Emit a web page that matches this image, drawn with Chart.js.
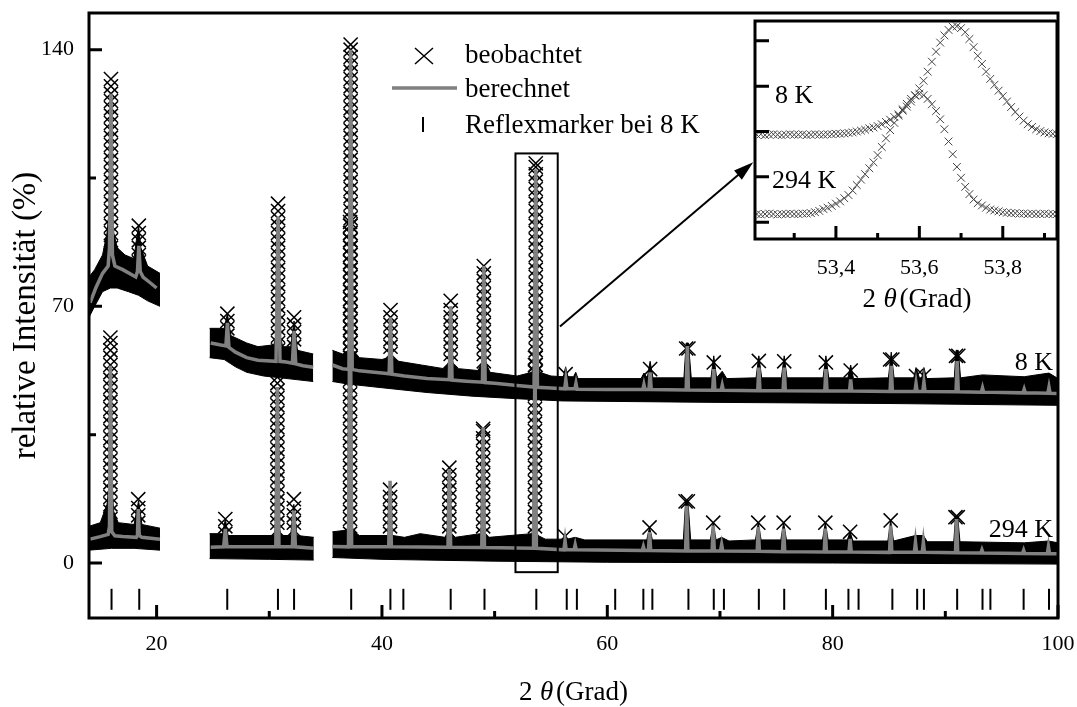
<!DOCTYPE html>
<html>
<head>
<meta charset="utf-8">
<script src="https://cdn.jsdelivr.net/npm/chart.js@4.4.0/dist/chart.umd.min.js"></script>
<style>
  html, body { margin: 0; padding: 0; background: #fff; }
  #wrap { position: relative; width: 1077px; height: 707px; }
  #main { position: absolute; left: 0; top: 0; }
  #inset { position: absolute; left: 740px; top: 13px; }
</style>
</head>
<body>
<div id="wrap">
  <canvas id="main" width="1077" height="707"></canvas>
  <canvas id="inset" width="330" height="310"></canvas>
</div>
<script>
// ---- Daten: [2θ, Intensität], null trennt die Messabschnitte ----
const calc8 = [
  [14.1,71],[14.6,75],[15.2,79],[15.7,81],[15.82,86],[15.95,128],[16.08,84],[16.3,81],[17,80],[18.15,78],[18.3,79.5],[18.42,86.5],[18.55,79.5],[18.8,78],[19.4,76.5],[20.0,75],
  [22,null],
  [24.8,60],[25.6,59.5],[26.15,59.2],[26.28,65.5],[26.42,58.8],[27,57.5],[28,56],[29,55.3],[30.6,55],[30.78,94.5],[30.95,55],[31.5,54.8],[32.05,54.5],[32.2,63.3],[32.35,54.3],[33,53.8],[33.9,53.4],
  [34.7,null],
  [35.6,54],[36.5,53],[37.08,52.8],[37.22,140],[37.36,52.8],[38,52.4],[40,51.8],[40.64,51.6],[40.76,67],[40.88,51.5],[42,51],[44,50.3],[45.98,50],[46.1,70],[46.22,49.9],[47.5,49.6],
  [48.92,49.3],[49.04,81],[49.16,49.2],[50,49],[52,48.4],[53.5,48],[53.65,107.4],[53.8,47.9],[55,47.7],[56.22,47.5],[56.32,50],[56.42,47.5],[57.12,47.5],[57.22,49],[57.32,47.4],
  [60,47.3],[63.15,47.3],[63.25,48.7],[63.35,47.3],[63.7,47.3],[63.8,52],[63.9,47.3],[67.0,47.2],[67.1,59.2],[67.2,47.2],[69.35,47.1],[69.45,52.9],[69.55,47.1],[70.1,47.1],[70.2,48.5],[70.3,47.1],
  [73.35,47],[73.45,53.3],[73.55,47],[75.6,47],[75.7,53.3],[75.8,47],[79.3,46.9],[79.4,52.9],[79.5,46.9],[81.5,46.9],[81.6,50.1],[81.7,46.9],[85.1,46.8],[85.2,53.8],[85.3,46.8],
  [87.3,46.8],[87.4,49],[87.5,46.8],[88.0,46.8],[88.1,49.4],[88.2,46.8],[90.95,46.7],[91.05,55.1],[91.15,46.7],[93.2,46.6],[93.3,47.8],[93.4,46.6],[96.9,46.4],[97,47.4],[97.1,46.4],
  [99.1,46.3],[99.2,48],[99.3,46.3],[100,46.2]
];

const calc294 = [
  [14.1,6.5],[15,7.2],[15.7,7.8],[15.82,10],[15.9,53.8],[16.02,8.5],[16.3,7.4],[17,7.2],[18.2,7],[18.3,7.5],[18.37,14.7],[18.46,7.5],[18.7,7],[20.3,6.5],
  [22,null],
  [24.8,4.3],[25.95,4.4],[26.1,9.3],[26.25,4.4],[28,4.4],[30.58,4.4],[30.72,48],[30.86,4.4],[32.05,4.4],[32.18,14.3],[32.32,4.4],[33.95,4],
  [34.7,null],
  [35.6,4.5],[37.03,4.4],[37.17,92],[37.31,4.4],[40.6,4.4],[40.72,22.4],[40.84,4.4],[45.86,4.3],[45.98,25.6],[46.1,4.3],[48.86,4.2],[48.98,37],[49.1,4.2],
  [53.45,4],[53.58,58],[53.71,4],[56.15,3.6],[56.25,6.1],[56.35,3.6],[57.05,3.6],[57.15,5],[57.25,3.6],[63.1,3.4],[63.2,4.5],[63.3,3.4],[63.65,3.4],[63.75,8.4],[63.85,3.4],
  [66.95,3.3],[67.05,15.6],[67.15,3.3],[69.3,3.3],[69.4,10.2],[69.5,3.3],[70.05,3.3],[70.15,5],[70.25,3.3],[73.3,3.2],[73.4,9.8],[73.5,3.2],[75.55,3.1],[75.65,9.4],[75.75,3.1],
  [79.25,3],[79.35,9.4],[79.45,3],[81.45,3],[81.55,6.6],[81.65,3],[85.05,2.9],[85.15,10.2],[85.25,2.9],[87.25,2.9],[87.35,5.7],[87.45,2.9],[87.95,2.9],[88.05,5.7],[88.15,2.9],
  [90.9,2.8],[91,12],[91.1,2.8],[93.15,2.7],[93.25,3.6],[93.35,2.7],[96.85,2.6],[96.95,3.5],[97.05,2.6],[99.05,2.5],[99.15,4.5],[99.25,2.5],[100,2.5]
];

// Rauschband der Messpunkte (oben / unten), je Abschnitt
const band8Hi1 = [[14,78],[14.5,80],[15.2,84],[15.6,90],[15.9,100],[16.2,90],[16.5,86],[17.2,84],[18,83],[18.2,88],[18.4,92],[18.6,86],[19.2,81],[20.3,79]];
const band8Lo1 = [[14,67],[14.5,70],[15.2,74],[15.9,75],[16.5,75],[17.5,74],[18.4,73],[19.2,71.5],[20.3,70]];
const band8Hi2 = [[24.7,64],[25.5,64],[26.0,64],[26.28,68],[26.6,62],[28,60],[29,59],[30.4,59.5],[30.78,64],[31.2,59],[31.9,59],[32.2,66],[32.5,58],[33.9,57]];
const band8Lo2 = [[24.7,56],[26,55.5],[27,53.5],[28,52],[29.5,51],[31,50.5],[33.9,49.5]];
const band8Hi3 = [[35.6,58],[36.5,57],[37.0,58],[37.22,62],[37.45,58],[38,56],[40,55.5],[40.55,56],[40.76,60],[40.95,56],[41.5,55],[43.5,54],[45.5,53],[45.85,54],[46.1,58],[46.35,54],
  [46.8,53],[48.5,52.5],[48.8,54],[49.04,58],[49.3,54],[49.6,52],[52,51],[53.3,52],[53.65,56],[54,52],[55,51],[56.1,50.8],[56.3,53.5],[56.5,50.8],[57.0,50.8],[57.2,52],[57.4,50.3],
  [63.0,50.3],[63.25,51.8],[63.55,50.5],[63.8,55],[64.05,50.5],[66.8,50.5],[67.0,60],[67.2,60],[67.45,50.5],[69.2,50.5],[69.45,56.5],[69.7,50.5],[70.2,52.3],[70.6,50.3],
  [73.2,50.5],[73.45,56.5],[73.7,50.5],[75.45,50.5],[75.7,56.5],[75.95,50.5],[79.15,50.5],[79.4,56.5],[79.65,50.5],[81.35,50.5],[81.6,54],[81.85,50.3],[84.95,50.5],[85.2,57.5],
  [85.45,50.5],[87.2,50.5],[87.4,53.3],[87.7,50.5],[87.9,50.5],[88.1,53.3],[88.35,50.3],[90.8,50.5],[90.95,58],[91.15,58],[91.35,50.5],[93.3,51.3],[97,50.8],[99.2,51.8],[100,50.3]];
const band8Lo3 = [[35.6,49.5],[37,48.8],[40,47.8],[44,46.5],[48,45.5],[52,44.8],[56,44.2],[70,43.8],[85,43.5],[100,43]];

const band294Hi1 = [[14,10],[15,11],[15.6,16],[15.9,25],[16.2,14],[16.6,11],[18,10.5],[18.4,17],[18.7,10.5],[20.3,9.5]];
const band294Lo1 = [[14,3.5],[16,4],[18,4],[20.3,3.5]];
const band294Hi2 = [[24.7,8],[25.85,8],[26.1,12],[26.35,7.5],[30.4,7.5],[30.72,12],[31.05,7.5],[31.9,7.5],[32.18,16],[32.45,7.5],[33.95,7]];
const band294Lo2 = [[24.7,1.2],[30,1.0],[33.95,0.8]];
const band294Hi3 = [[35.6,8.5],[37.0,9],[37.17,12],[37.35,9],[38,7.5],[40.5,7.5],[40.72,10],[40.95,7.5],[42,7],[43.4,8],[45.6,7],[45.75,8],[45.98,11],[46.2,8],[46.5,7],[48.75,8],
  [48.98,11],[49.2,8],[49.5,7],[53.3,8],[53.58,11],[53.85,7.5],[54.5,6.5],[56.05,6.5],[56.25,8],[56.45,6.5],[57.15,7],[58,6.3],[63,6.3],[63.5,6.3],[63.75,9.7],[64.0,6.3],
  [66.75,6.3],[66.95,17],[67.15,17],[67.4,6.3],[69.15,6.3],[69.4,11],[69.65,6.3],[70.15,7],[70.8,6],[73.15,6.3],[73.4,11],[73.65,6.3],[75.4,6.3],[75.65,11],[75.9,6.3],
  [79.1,6.3],[79.35,11],[79.6,6.3],[81.3,6.3],[81.55,8.5],[81.8,6],[84.9,6],[85.15,11.6],[85.4,6],[87.35,7.5],[88.05,7.5],[88.4,5.8],[90.75,5.8],[90.9,12.5],[91.1,12.5],
  [91.3,5.8],[97,5.5],[99.15,6],[100,5.5]];
const band294Lo3 = [[35.6,1.5],[40,1],[50,0.5],[60,0.2],[80,0],[100,-0.3]];

// sichtbare Messpunkte an den Reflexflanken: [2θ, [Intensitäten]]
const obs8Stacks = [
  [15.95,[82,84,86,88,90,92,94,96,98,100,102,104,106,108,110,112,114,116,118,120,122,124,126,128,130,132]],
  [18.42,[82,84,86,88,90,92]],
  [26.28,[62,64,66,68]],
  [30.78,[58,60,62,64,66,68,70,72,74,76,78,80,82,84,86,88,90,92,94,96,98]],
  [32.2,[59,61,63,65,67]],
  [37.22,[56,58,60,62,64,66,68,70,72,74,76,78,80,82,84,86,88,90,92,94,96,98,100,102,104,106,108,110,112,114,116,118,120,122,124,126,128,130,132,134,136,138,140,141.4]],
  [40.76,[57,59,61,63,65,67,69]],
  [46.1,[55,57,59,61,63,65,67,69,71.5]],
  [49.04,[55,57,59,61,63,65,67,69,71,73,75,77,79,81]],
  [53.65,[52,54,56,58,60,62,64,66,68,70,72,74,76,78,80,82,84,86,88,90,92,94,96,98,100,102,104,106,108,109]],
  [56.3,[51.5]],[63.8,[52.9]],[67.0,[58.5]],[67.2,[58.5]],[69.45,[54.7]],[73.45,[55.1]],[75.7,[55]],
  [79.4,[54.7]],[81.6,[52.5]],[85.1,[55.5]],[85.3,[55.5]],[87.4,[51]],[88.1,[51]],[90.95,[56.5]],[91.15,[56.5]]
];
const obs294Stacks = [
  [15.9,[12,14,16,18,20,22,24,26,28,30,32,34,36,38,40,42,44,46,48,50,52,54,56,58,60,61.5]],
  [18.37,[11,13,15,17.4]],
  [26.1,[8,10,12]],
  [30.72,[9,11,13,15,17,19,21,23,25,27,29,31,33,35,37,39,41,43,45,47,49,50.7]],
  [32.18,[9,11,13,15,17.4]],
  [37.17,[8,10,12,14,16,18,20,22,24,26,28,30,32,34,36,38,40,42,44,46,48,50,52,54,56,58,60,62,64,66,68,70,72,74,76,78,80,82,84,86,88,90,92,93]],
  [40.72,[8,10,12,14,16,18,20]],
  [45.98,[8,10,12,14,16,18,20,22,24,26]],
  [48.98,[8,10,12,14,16,18,20,22,24,26,28,30,32,34,36,36.6]],
  [53.58,[8,10,12,14,16,18,20,22,24,26,28,30,32,34,36,38,40,42,44,46,48,50,52,54,56]],
  [56.25,[7.3]],[63.75,[9.7]],[66.95,[16.8]],[67.15,[16.8]],[69.4,[11]],[73.4,[11]],[75.65,[11]],
  [79.35,[11]],[81.55,[8.5]],[85.15,[11.6]],[90.9,[12.5]],[91.1,[12.5]]
];

// Reflexmarker bei 8 K
const reflexPos = [16.0,18.46,26.27,30.77,32.2,37.27,40.75,41.9,46.1,49.1,53.7,56.4,57.3,60.7,63.2,64.0,67.2,69.45,70.35,
  73.45,75.7,79.4,81.4,82.3,85.3,87.5,88.1,91.05,93.3,94.0,96.95,99.2];
const reflexLevel = -9.9;

const xMajor = [20, 40, 60, 80, 100];
const xMinor = [30, 50, 70, 90];
const yMajor = [0, 70, 140];
const yMinor = [35, 105];

// Ausschnitt + Pfeil (Datenkoordinaten)
const zoomBox = [51.85, 55.6, -2.5, 111.7];
const arrowFrom = [55.8, 64.5];
const arrowTo = [72.95, 109.3];

// Inset: 53,2 ... 53,93 Grad
const insetX = [53.21,53.22,53.23,53.24,53.25,53.26,53.27,53.28,53.29,53.30,53.31,53.32,53.33,53.34,53.35,53.36,53.37,53.38,53.39,53.40,
  53.41,53.42,53.43,53.44,53.45,53.46,53.47,53.48,53.49,53.50,53.51,53.52,53.53,53.54,53.55,53.56,53.57,53.58,53.59,53.60,
  53.61,53.62,53.63,53.64,53.65,53.66,53.67,53.68,53.69,53.70,53.71,53.72,53.73,53.74,53.75,53.76,53.77,53.78,53.79,53.80,
  53.81,53.82,53.83,53.84,53.85,53.86,53.87,53.88,53.89,53.90,53.91,53.92,53.93];
const inset8 = [1.93,1.94,1.92,1.93,1.94,1.93,1.92,1.93,1.94,1.93,1.93,1.94,1.92,1.93,1.94,1.93,1.93,1.94,1.94,1.95,
  1.95,1.96,1.97,1.98,2.00,2.02,2.04,2.07,2.09,2.12,2.16,2.21,2.26,2.32,2.38,2.46,2.55,2.66,2.79,2.95,
  3.12,3.32,3.54,3.76,3.96,4.12,4.24,4.31,4.32,4.28,4.19,4.04,3.86,3.67,3.49,3.32,3.16,3.03,2.90,2.78,
  2.66,2.54,2.43,2.33,2.24,2.16,2.10,2.05,2.01,1.98,1.96,1.95,1.94];
const inset294 = [0.18,0.17,0.18,0.19,0.18,0.17,0.18,0.18,0.19,0.18,0.18,0.19,0.19,0.20,0.22,0.25,0.29,0.32,0.36,0.41,
  0.46,0.53,0.60,0.70,0.82,0.94,1.06,1.19,1.32,1.48,1.66,1.85,2.03,2.19,2.35,2.49,2.61,2.72,2.80,2.83,
  2.80,2.72,2.60,2.45,2.27,2.05,1.78,1.50,1.22,0.98,0.78,0.62,0.50,0.42,0.37,0.32,0.28,0.26,0.24,0.22,
  0.21,0.20,0.20,0.19,0.19,0.18,0.19,0.18,0.18,0.19,0.18,0.18,0.18];
const insetXMajor = [53.4, 53.6, 53.8];
const insetXMinor = [53.3, 53.5, 53.7, 53.9];
const insetYTicks = [0, 1, 2, 3, 4];

const SERIF = '"Liberation Serif", "Times New Roman", serif';
Chart.defaults.font.family = SERIF;
Chart.defaults.color = '#000';

function toPts(arr) { return arr.map(p => ({ x: p[0], y: p[1] })); }
function stackToPts(stacks) {
  const out = [];
  stacks.forEach(s => s[1].forEach(v => out.push({ x: s[0], y: v })));
  return out;
}

const datasets = [];
function addBand(hi, lo) {
  datasets.push({ data: toPts(hi), borderColor: '#000', borderWidth: 1, backgroundColor: '#000', pointRadius: 0, fill: '+1', order: 5 });
  datasets.push({ data: toPts(lo), borderColor: '#000', borderWidth: 1, pointRadius: 0, fill: false, order: 5 });
}
addBand(band8Hi1, band8Lo1); addBand(band8Hi2, band8Lo2); addBand(band8Hi3, band8Lo3);
addBand(band294Hi1, band294Lo1); addBand(band294Hi2, band294Lo2); addBand(band294Hi3, band294Lo3);

[obs8Stacks, obs294Stacks].forEach(st => datasets.push({
  data: stackToPts(st), showLine: false, pointStyle: 'crossRot', pointRadius: 10,
  pointBorderColor: '#000', pointBackgroundColor: 'rgba(0,0,0,0)', pointBorderWidth: 1.5, order: 3
}));
[calc8, calc294].forEach(c => datasets.push({
  data: toPts(c), borderColor: '#808080', borderWidth: 3.5, pointRadius: 0, fill: false, order: 1
}));
datasets.push({
  data: reflexPos.map(v => ({ x: v, y: reflexLevel })), showLine: false, pointStyle: 'line',
  pointRotation: 90, pointRadius: 10.5, pointBorderWidth: 2, pointBorderColor: '#000', order: 0
});

function drawTitle2Theta(ctx, cx, base, size) {
  const normal = size + 'px ' + SERIF, italic = 'italic ' + size + 'px ' + SERIF;
  ctx.font = normal; const w2 = ctx.measureText('2').width, wg = ctx.measureText('(Grad)').width;
  ctx.font = italic; const wt = ctx.measureText('\u03b8').width;
  const gap1 = size * 0.28, gap2 = size * 0.1;
  let x0 = cx - (w2 + gap1 + wt + gap2 + wg) / 2;
  ctx.textAlign = 'left'; ctx.textBaseline = 'alphabetic';
  ctx.font = normal; ctx.fillText('2', x0, base); x0 += w2 + gap1;
  ctx.font = italic; ctx.fillText('\u03b8', x0, base); x0 += wt + gap2;
  ctx.font = normal; ctx.fillText('(Grad)', x0, base);
}

const decor = {
  id: 'decor',
  afterDatasetsDraw(chart) {
    const { ctx, chartArea: a, scales: { x, y } } = chart;
    ctx.save();
    ctx.strokeStyle = '#000'; ctx.fillStyle = '#000';
    ctx.lineWidth = 3;
    ctx.strokeRect(a.left, a.top, a.right - a.left, a.bottom - a.top);
    ctx.beginPath();
    xMajor.forEach(v => { const p = x.getPixelForValue(v); ctx.moveTo(p, a.bottom); ctx.lineTo(p, a.bottom - 13); });
    xMinor.forEach(v => { const p = x.getPixelForValue(v); ctx.moveTo(p, a.bottom); ctx.lineTo(p, a.bottom - 7); });
    yMajor.forEach(v => { const p = y.getPixelForValue(v); ctx.moveTo(a.left, p); ctx.lineTo(a.left + 13, p); });
    yMinor.forEach(v => { const p = y.getPixelForValue(v); ctx.moveTo(a.left, p); ctx.lineTo(a.left + 7, p); });
    ctx.stroke();

    // Ausschnittsrahmen
    ctx.lineWidth = 2;
    const bx0 = x.getPixelForValue(zoomBox[0]), bx1 = x.getPixelForValue(zoomBox[1]);
    const by0 = y.getPixelForValue(zoomBox[3]), by1 = y.getPixelForValue(zoomBox[2]);
    ctx.strokeRect(bx0, by0, bx1 - bx0, by1 - by0);

    // Pfeil zum Inset
    const ax0 = x.getPixelForValue(arrowFrom[0]), ay0 = y.getPixelForValue(arrowFrom[1]);
    const ax1 = x.getPixelForValue(arrowTo[0]), ay1 = y.getPixelForValue(arrowTo[1]);
    const ang = Math.atan2(ay1 - ay0, ax1 - ax0);
    ctx.beginPath(); ctx.moveTo(ax0, ay0);
    ctx.lineTo(ax1 - 14 * Math.cos(ang), ay1 - 14 * Math.sin(ang)); ctx.stroke();
    ctx.beginPath();
    ctx.moveTo(ax1, ay1);
    ctx.lineTo(ax1 - 20 * Math.cos(ang) + 6 * Math.sin(ang), ay1 - 20 * Math.sin(ang) - 6 * Math.cos(ang));
    ctx.lineTo(ax1 - 20 * Math.cos(ang) - 6 * Math.sin(ang), ay1 - 20 * Math.sin(ang) + 6 * Math.cos(ang));
    ctx.closePath(); ctx.fill();

    // Legende
    const lx = 424, ly = 56;
    ctx.lineWidth = 1.5;
    ctx.beginPath();
    ctx.moveTo(lx - 9, ly - 8); ctx.lineTo(lx + 9, ly + 8);
    ctx.moveTo(lx - 9, ly + 8); ctx.lineTo(lx + 9, ly - 8);
    ctx.stroke();
    ctx.strokeStyle = '#808080'; ctx.lineWidth = 3.5;
    ctx.beginPath(); ctx.moveTo(392, 88); ctx.lineTo(457, 88); ctx.stroke();
    ctx.strokeStyle = '#000'; ctx.lineWidth = 2;
    ctx.beginPath(); ctx.moveTo(423, 117); ctx.lineTo(423, 132); ctx.stroke();
    ctx.font = '27px ' + SERIF; ctx.textAlign = 'left'; ctx.textBaseline = 'alphabetic';
    ctx.fillText('beobachtet', 465, 63);
    ctx.fillText('berechnet', 465, 97);
    ctx.fillText('Reflexmarker bei 8 K', 465, 133);

    // Temperaturbeschriftung
    ctx.font = '26px ' + SERIF; ctx.textAlign = 'right';
    ctx.fillText('8 K', a.right - 5, 370);
    ctx.fillText('294 K', a.right - 5, 537);

    // Achsentitel
    drawTitle2Theta(ctx, (a.left + a.right) / 2, 700, 27);
    ctx.save();
    ctx.translate(35, (a.top + a.bottom) / 2);
    ctx.rotate(-Math.PI / 2);
    ctx.font = '33px ' + SERIF; ctx.textAlign = 'center'; ctx.textBaseline = 'alphabetic';
    ctx.fillText('relative Intensit\u00e4t (%)', 0, 0);
    ctx.restore();
    ctx.restore();
  }
};

new Chart(document.getElementById('main'), {
  type: 'line',
  data: { datasets },
  options: {
    responsive: false, animation: false, events: [],
    layout: { padding: { top: 13, right: 19, left: 0, bottom: 0 } },
    plugins: { legend: { display: false }, tooltip: { enabled: false } },
    scales: {
      x: {
        type: 'linear', min: 14, max: 100,
        grid: { display: false }, border: { display: false },
        afterBuildTicks: s => { s.ticks = xMajor.map(v => ({ value: v })); },
        ticks: { font: { size: 22 }, color: '#000', padding: 5, maxRotation: 0, autoSkip: false },
        afterFit: s => { s.height = 89; s.paddingLeft = 0; s.paddingRight = 0; }
      },
      y: {
        type: 'linear', min: -15, max: 150,
        grid: { display: false }, border: { display: false },
        afterBuildTicks: s => { s.ticks = yMajor.map(v => ({ value: v })); },
        ticks: { font: { size: 22 }, color: '#000', padding: 7, autoSkip: false },
        afterFit: s => { s.width = 89; s.paddingTop = 0; s.paddingBottom = 0; }
      }
    }
  },
  plugins: [decor]
});

// ---- Inset ----
const insetDecor = {
  id: 'insetDecor',
  beforeDatasetsDraw(chart) {
    const { ctx, chartArea: a } = chart;
    ctx.save(); ctx.fillStyle = '#fff';
    ctx.fillRect(a.left, a.top, a.right - a.left, a.bottom - a.top);
    ctx.restore();
  },
  afterDatasetsDraw(chart) {
    const { ctx, chartArea: a, scales: { x, y } } = chart;
    ctx.save();
    ctx.strokeStyle = '#000'; ctx.fillStyle = '#000'; ctx.lineWidth = 3;
    ctx.strokeRect(a.left, a.top + 1.5, a.right - a.left, a.bottom - a.top - 1.5);
    ctx.beginPath();
    insetXMajor.forEach(v => { const p = x.getPixelForValue(v); ctx.moveTo(p, a.bottom); ctx.lineTo(p, a.bottom - 13); });
    insetXMinor.forEach(v => { const p = x.getPixelForValue(v); ctx.moveTo(p, a.bottom); ctx.lineTo(p, a.bottom - 6); });
    insetYTicks.forEach(v => { const p = y.getPixelForValue(v); ctx.moveTo(a.left, p); ctx.lineTo(a.left + 14, p); });
    ctx.stroke();
    ctx.font = '26px ' + SERIF; ctx.textAlign = 'left'; ctx.textBaseline = 'alphabetic';
    ctx.fillText('8 K', a.left + 20, 90);
    ctx.fillText('294 K', a.left + 17, 175);
    drawTitle2Theta(ctx, (a.left + a.right) / 2 + 11, 294, 27);
    ctx.restore();
  }
};

new Chart(document.getElementById('inset'), {
  type: 'line',
  data: {
    datasets: [inset8, inset294].map(vals => ({
      data: insetX.map((xv, i) => ({ x: xv, y: vals[i] })),
      showLine: false, pointStyle: 'crossRot', pointRadius: 5.5,
      pointBorderColor: '#444', pointBackgroundColor: 'rgba(0,0,0,0)', pointBorderWidth: 1
    }))
  },
  options: {
    responsive: false, animation: false, events: [],
    layout: { padding: { left: 15, right: 13, top: 0, bottom: 0 } },
    plugins: { legend: { display: false }, tooltip: { enabled: false } },
    scales: {
      x: {
        type: 'linear', min: 53.206, max: 53.93,
        grid: { display: false }, border: { display: false },
        afterBuildTicks: s => { s.ticks = insetXMajor.map(v => ({ value: v })); },
        ticks: { font: { size: 22 }, color: '#000', padding: 8, maxRotation: 0, autoSkip: false,
                 callback: v => v.toFixed(1).replace('.', ',') },
        afterFit: s => { s.height = 84; s.paddingLeft = 0; s.paddingRight = 0; }
      },
      y: { type: 'linear', min: -0.37, max: 4.47, display: false }
    }
  },
  plugins: [insetDecor]
});
</script>
</body>
</html>
